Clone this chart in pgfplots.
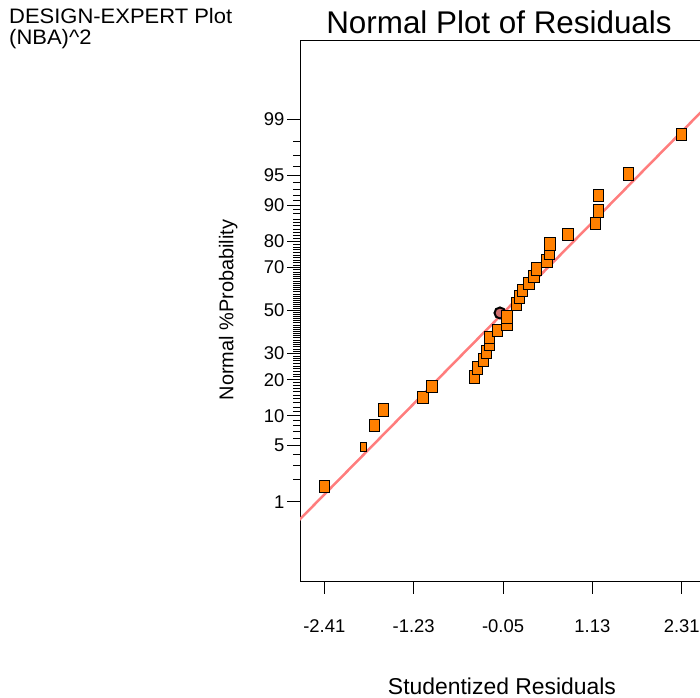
\documentclass[border=0pt]{standalone}
\usepackage{pgfplots}
\pgfplotsset{compat=1.18}
\usepackage{fontspec}
\setmainfont{Liberation Sans}
\definecolor{mkorange}{RGB}{255,128,0}
\definecolor{fitline}{RGB}{255,125,125}
\definecolor{circfill}{RGB}{205,110,110}

% normal quantile (Abramowitz-Stegun 26.2.23) for minor tick positions
\newcommand\probit[2]{%
  \pgfmathsetmacro\prP{#1/100}%
  \pgfmathsetmacro\prQ{min(\prP,1-\prP)}%
  \pgfmathsetmacro\prT{sqrt(-2*ln(\prQ))}%
  \pgfmathsetmacro\prZ{\prT-(2.515517+0.802853*\prT+0.010328*\prT*\prT)/(1+1.432788*\prT+0.189269*\prT*\prT+0.001308*\prT*\prT*\prT)}%
  \pgfmathsetmacro#2{ifthenelse(\prP<0.5,-\prZ,\prZ)}%
}
\def\minorlist{-5}
\foreach \p in {2,3,4,6,7,8,9,11,12,...,19,21,22,...,29,31,32,...,49,51,52,...,69,71,72,...,79,81,82,...,89,91,92,93,94,96,97,98}{%
  \probit{\p}{\zval}\xdef\minorlist{\minorlist,\zval}}

\pgfplotstableread{
x y
-2.41 -2.141
-1.75 -1.401
-1.63 -1.211
-1.11 -1.057
-0.99 -0.925
-0.43 -0.807
-0.39 -0.700
-0.31 -0.600
-0.27 -0.506
-0.23 -0.416
-0.23 -0.330
-0.12 -0.245
0.00 -0.162
0.00 -0.081
0.13 0.081
0.17 0.162
0.21 0.245
0.29 0.330
0.36 0.416
0.39 0.506
0.53 0.600
0.56 0.700
0.57 0.807
0.81 0.925
1.17 1.057
1.21 1.211
1.21 1.401
1.61 1.660
2.31 2.141
}\resid

\begin{document}
\begin{tikzpicture}[x=1bp,y=1bp]
\useasboundingbox (0,0) rectangle (700,698);
\clip (0,0) rectangle (700,698);
\node[anchor=north west, align=left, inner sep=0, font=\fontsize{21}{21}\selectfont, xscale=1.05] at (9,690) {DESIGN-EXPERT Plot\\(NBA)\textasciicircum 2};
\node[inner sep=0, font=\fontsize{31.5}{36}\selectfont] at (499,676) {Normal Plot of Residuals};
\begin{axis}[
  at={(300bp,117bp)}, anchor=south west,
  scale only axis, width=406bp, height=541bp,
  xmin=-2.731, xmax=2.631, ymin=-3.29, ymax=3.29,
  xtick={-2.41,-1.23,-0.05,1.13,2.31},
  xticklabels={-2.41,-1.23,-0.05,1.13,2.31},
  ytick={-2.3263,-1.6449,-1.2816,-0.8416,-0.5244,0,0.5244,0.8416,1.2816,1.6449,2.3263},
  yticklabels={1,5,10,20,30,50,70,80,90,95,99},
  minor ytick/.expanded=\minorlist,
  tick align=outside, xtick pos=left, ytick pos=left,
  major tick length=13bp, minor tick length=7bp,
  axis line style={black, line width=0.8bp},
  every tick/.style={black, line width=0.8bp},
  tick label style={font=\fontsize{18.5}{20}\selectfont},
  xticklabel style={yshift=-22bp},
  yticklabel style={xshift=1bp},
  xlabel={Studentized Residuals},
  xlabel style={at={(axis description cs:0.4975,-0.194)}, anchor=center, font=\fontsize{23}{26}\selectfont},
  ylabel={Normal \%Probability},
  ylabel style={at={(axis description cs:-0.177,0.501)}, anchor=center, font=\fontsize{20}{24}\selectfont},
  clip=true,
]
\addplot[only marks, mark=*, mark size=5.5bp, mark options={draw=black, line width=2bp, fill=circfill}] coordinates {(-0.09,-0.03)};
\addplot[fitline, line width=2.5bp] coordinates {(-3,-2.79) (3,2.82)};
\addplot[only marks, mark=square*, mark size=5.2bp, mark options={draw=black, line width=0.9bp, fill=mkorange, yscale=1.2}] table[x=x,y=y] {\resid};
\addplot[only marks, mark=square*, mark size=4.5bp, mark options={draw=black, line width=0.9bp, fill=mkorange, xscale=0.67}] coordinates {(-1.89,-1.660)};
\end{axis}
\end{tikzpicture}
\end{document}
